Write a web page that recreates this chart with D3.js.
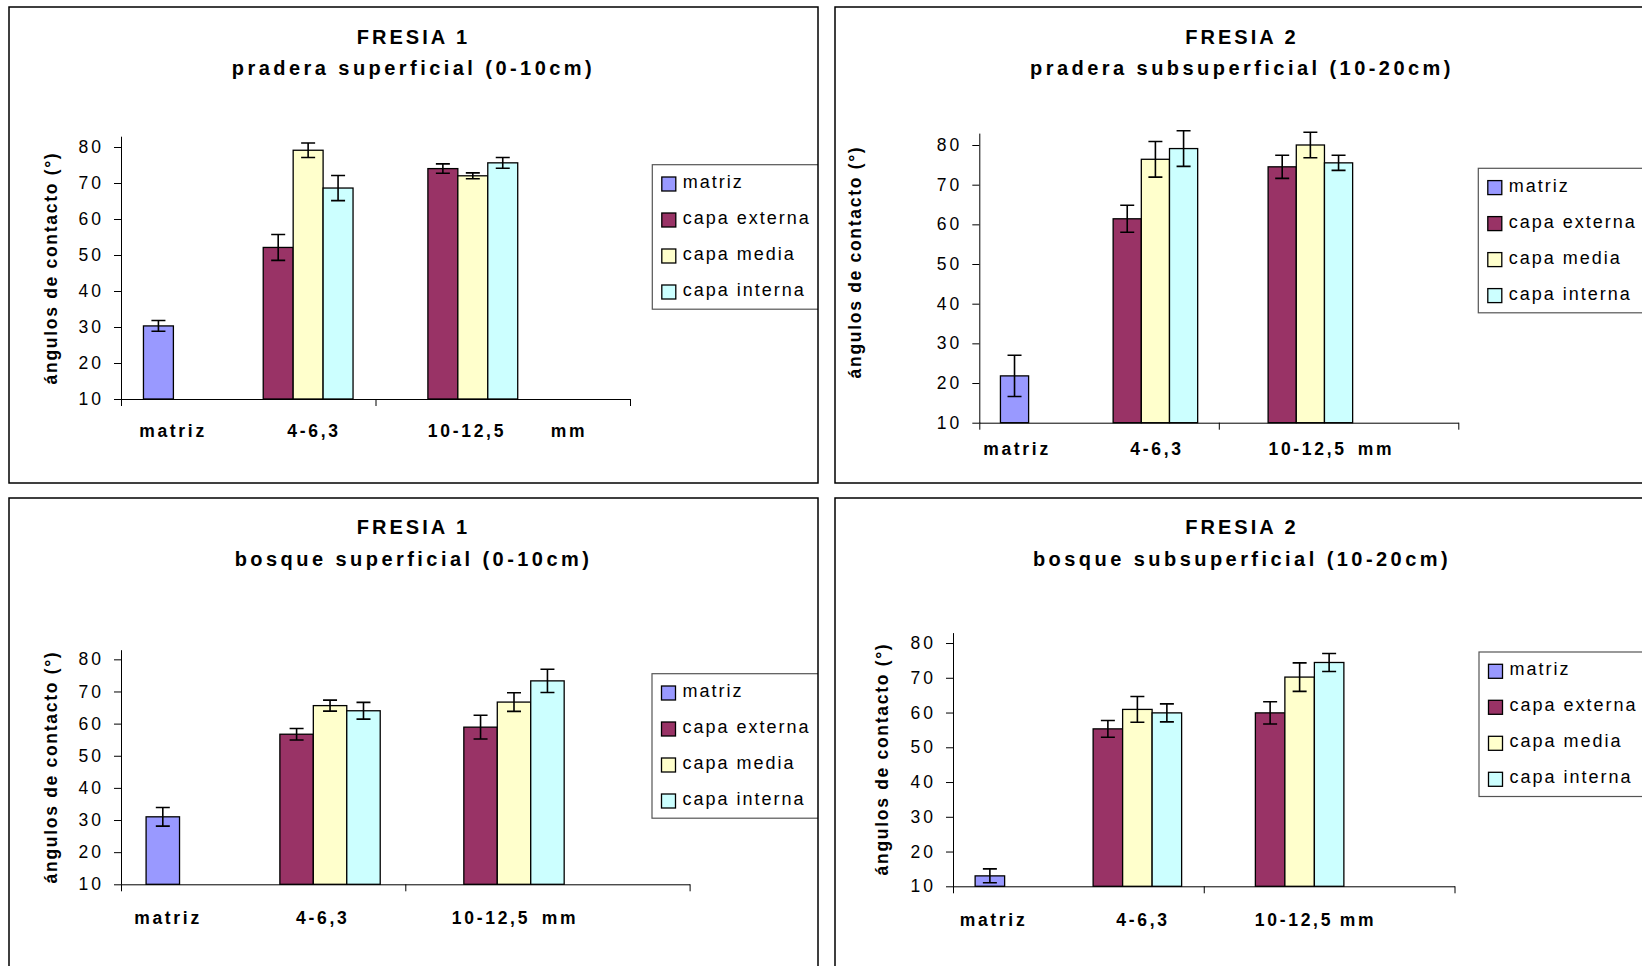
<!DOCTYPE html>
<html>
<head>
<meta charset="utf-8">
<script src="https://cdn.jsdelivr.net/npm/d3@7"></script>
<style>
  html, body { margin: 0; padding: 0; background: #fff; }
  svg { display: block; font-family: "Liberation Sans", Arial, sans-serif; }
</style>
</head>
<body>
<svg id="chart" width="1642" height="966"></svg>
<script>
// Legend series and their fills
const seriesNames = ["matriz", "capa externa", "capa media", "capa interna"];
const seriesColors = ["#9999FF", "#993366", "#FFFFCC", "#CCFFFF"];

// Aggregate size classes; each bar below belongs to one class and one series
const sizeClasses = ["matriz", "4-6,3", "10-12,5"];
const barClass  = [0, 1, 1, 1, 2, 2, 2];
const barSeries = [0, 1, 2, 3, 1, 2, 3];

// Axis texts
const xTitleParts = ["matriz", "4-6,3", "10-12,5", "mm"];
const yTicks = [10, 20, 30, 40, 50, 60, 70, 80];
const yLabel = "ángulos de contacto (°)";

const titles = ["FRESIA 1", "FRESIA 2", "FRESIA 1", "FRESIA 2"];
const subtitles = [
  "pradera superficial (0-10cm)",
  "pradera subsuperficial (10-20cm)",
  "bosque superficial (0-10cm)",
  "bosque subsuperficial (10-20cm)"
];

// Mean contact angle (°) and error: matriz, then externa/media/interna for 4-6,3 and 10-12,5 mm
const praderaSup    = [30.3, 52.1, 79.1, 68.6, 74.0, 72.0, 75.6];
const praderaSupErr = [1.5, 3.6, 2.0, 3.5, 1.3, 0.8, 1.5];
const praderaSub    = [21.8, 61.4, 76.4, 79.1, 74.5, 80.0, 75.5];
const praderaSubErr = [5.2, 3.4, 4.5, 4.5, 2.9, 3.2, 1.9];
const bosqueSup     = [31.0, 56.7, 65.6, 64.0, 58.9, 66.7, 73.3];
const bosqueSupErr  = [2.9, 1.8, 1.7, 2.6, 3.7, 2.9, 3.6];
const bosqueSub     = [13.0, 55.3, 60.9, 59.9, 59.9, 70.2, 74.4];
const bosqueSubErr  = [2.0, 2.4, 3.7, 2.6, 3.2, 4.1, 2.6];

const panelMeans = [praderaSup, praderaSub, bosqueSup, bosqueSub];
const panelErrs  = [praderaSupErr, praderaSubErr, bosqueSupErr, bosqueSubErr];

// Layout of each chart box (pixels)
const layouts = [
  { frame: [9, 7, 809, 476],   left: 121,   right: 630,    base: 399,   top: 136.2, titleY: 43.5, subY: 75,
    yLab: [51, 268], legend: [652.3, 164.7], xTitleY: 437, xTitleX: [52, 193, 346, 448] },
  { frame: [835, 7, 820, 476], left: 979.3, right: 1458.3, base: 422.7, top: 133.1, titleY: 43.5, subY: 75,
    yLab: [855, 262], legend: [1478.3, 168.3], xTitleY: 454.5, xTitleX: [37.7, 177.7, 328.3, 396.7] },
  { frame: [9, 498, 809, 480], left: 121,   right: 689.6,  base: 884.3, top: 649.7, titleY: 534, subY: 566,
    yLab: [51, 767], legend: [652, 673.7], xTitleY: 924, xTitleX: [47, 201.8, 370, 439] },
  { frame: [835, 498, 820, 480], left: 953, right: 1454.5, base: 886.3, top: 632.6, titleY: 534, subY: 566,
    yLab: [882, 759], legend: [1479, 652], xTitleY: 926, xTitleX: [40.5, 190, 341, 405] }
];

// Bars sit in two axis divisions of seven slots each (gap width 150%)
const classSlotOffset = [0, 3, 7];

const svg = d3.select("#chart");
const defs = svg.append("defs");

layouts.forEach((L, p) => {
  const [fx, fy, fw, fh] = L.frame;
  defs.append("clipPath").attr("id", "clip" + p)
    .append("rect").attr("x", fx).attr("y", fy).attr("width", fw).attr("height", fh);

  const g = svg.append("g").attr("clip-path", `url(#clip${p})`);

  // scales
  const xDiv = d3.scaleBand().domain([0, 1]).range([L.left, L.right]);
  const xSlot = d3.scaleBand().domain(d3.range(7)).range([0, xDiv.bandwidth()])
    .paddingInner(0).paddingOuter(0.75);
  const xBar = slot => xDiv(Math.floor(slot / 7)) + xSlot(slot % 7);
  const y = d3.scaleLinear().domain([10, 83]).range([L.base, L.top]);
  const xEdge = d3.scaleLinear().domain([0, 2]).range([L.left, L.right]);

  // titles
  const cx0 = fx + fw / 2 + (p % 2 ? -3 : 0);
  g.append("text").attr("x", cx0).attr("y", L.titleY)
    .attr("text-anchor", "middle").attr("font-size", 20).attr("font-weight", "bold")
    .attr("letter-spacing", 3).attr("fill", "#000").text(titles[p]);
  g.append("text").attr("x", cx0).attr("y", L.subY)
    .attr("text-anchor", "middle").attr("font-size", 20).attr("font-weight", "bold")
    .attr("letter-spacing", 3.45).attr("fill", "#000").text(subtitles[p]);

  // bars
  const bars = panelMeans[p].map((v, i) => ({
    v, e: panelErrs[p][i], s: barSeries[i], slot: classSlotOffset[barClass[i]] + barSeries[i]
  }));
  g.append("g").selectAll("rect").data(bars).join("rect")
    .attr("x", d => xBar(d.slot)).attr("width", xSlot.bandwidth())
    .attr("y", d => y(d.v)).attr("height", d => y(10) - y(d.v))
    .attr("fill", d => seriesColors[d.s]).attr("stroke", "#000").attr("stroke-width", 1.3);

  // error bars
  const eb = g.append("g").attr("stroke", "#000").attr("stroke-width", 1.6).attr("fill", "none");
  bars.forEach(d => {
    const cx = xBar(d.slot) + xSlot.bandwidth() / 2;
    eb.append("path").attr("d",
      `M${cx},${y(d.v + d.e)}V${y(d.v - d.e)}` +
      `M${cx - 7},${y(d.v + d.e)}H${cx + 7}` +
      `M${cx - 7},${y(d.v - d.e)}H${cx + 7}`);
  });

  // y axis
  const ya = g.append("g").attr("transform", `translate(${L.left},0)`)
    .call(d3.axisLeft(y).tickValues(yTicks).tickSize(7).tickSizeOuter(0).tickPadding(10));
  ya.select(".domain").attr("stroke", "#000");
  ya.selectAll(".tick line").attr("stroke", "#000");
  ya.selectAll(".tick text").attr("font-size", 17.5).attr("letter-spacing", 3)
    .attr("fill", "#000").attr("font-family", null);

  // x axis: ticks at the division edges
  const xa = g.append("g").attr("transform", `translate(0,${L.base})`)
    .call(d3.axisBottom(xEdge).tickValues([0, 1, 2]).tickSize(7).tickSizeOuter(0).tickFormat(""));
  xa.select(".domain").attr("stroke", "#000");
  xa.selectAll(".tick line").attr("stroke", "#000");

  // x axis title pieces
  g.append("g").selectAll("text").data(xTitleParts).join("text")
    .attr("x", (d, i) => L.left + L.xTitleX[i]).attr("y", L.xTitleY)
    .attr("text-anchor", "middle").attr("font-size", 17.5).attr("font-weight", "bold")
    .attr("letter-spacing", 2.7).attr("fill", "#000").text(d => d);

  // y axis title
  const [lx, ly] = L.yLab;
  g.append("text").attr("transform", `translate(${lx},${ly}) rotate(-90)`)
    .attr("text-anchor", "middle").attr("dominant-baseline", "central")
    .attr("font-size", 17.5).attr("font-weight", "bold").attr("letter-spacing", 1.7)
    .attr("fill", "#000").text(yLabel);

  // legend
  const [gx, gy] = L.legend;
  const lg = g.append("g").attr("transform", `translate(${gx},${gy})`);
  lg.append("rect").attr("width", 260).attr("height", 144.5)
    .attr("fill", "#fff").attr("stroke", "#555").attr("stroke-width", 1.2);
  const items = lg.selectAll("g.item").data(seriesNames).join("g").attr("class", "item")
    .attr("transform", (d, i) => `translate(9.5,${12.3 + i * 36})`);
  items.append("rect").attr("width", 14).attr("height", 14)
    .attr("fill", (d, i) => seriesColors[i]).attr("stroke", "#000").attr("stroke-width", 1.3);
  items.append("text").attr("x", 21).attr("y", 11).attr("font-size", 18)
    .attr("letter-spacing", 2).attr("fill", "#000").text(d => d);

  // chart box border
  svg.append("rect").attr("x", fx).attr("y", fy).attr("width", fw).attr("height", fh)
    .attr("fill", "none").attr("stroke", "#000").attr("stroke-width", 1.5);
});
</script>
</body>
</html>
